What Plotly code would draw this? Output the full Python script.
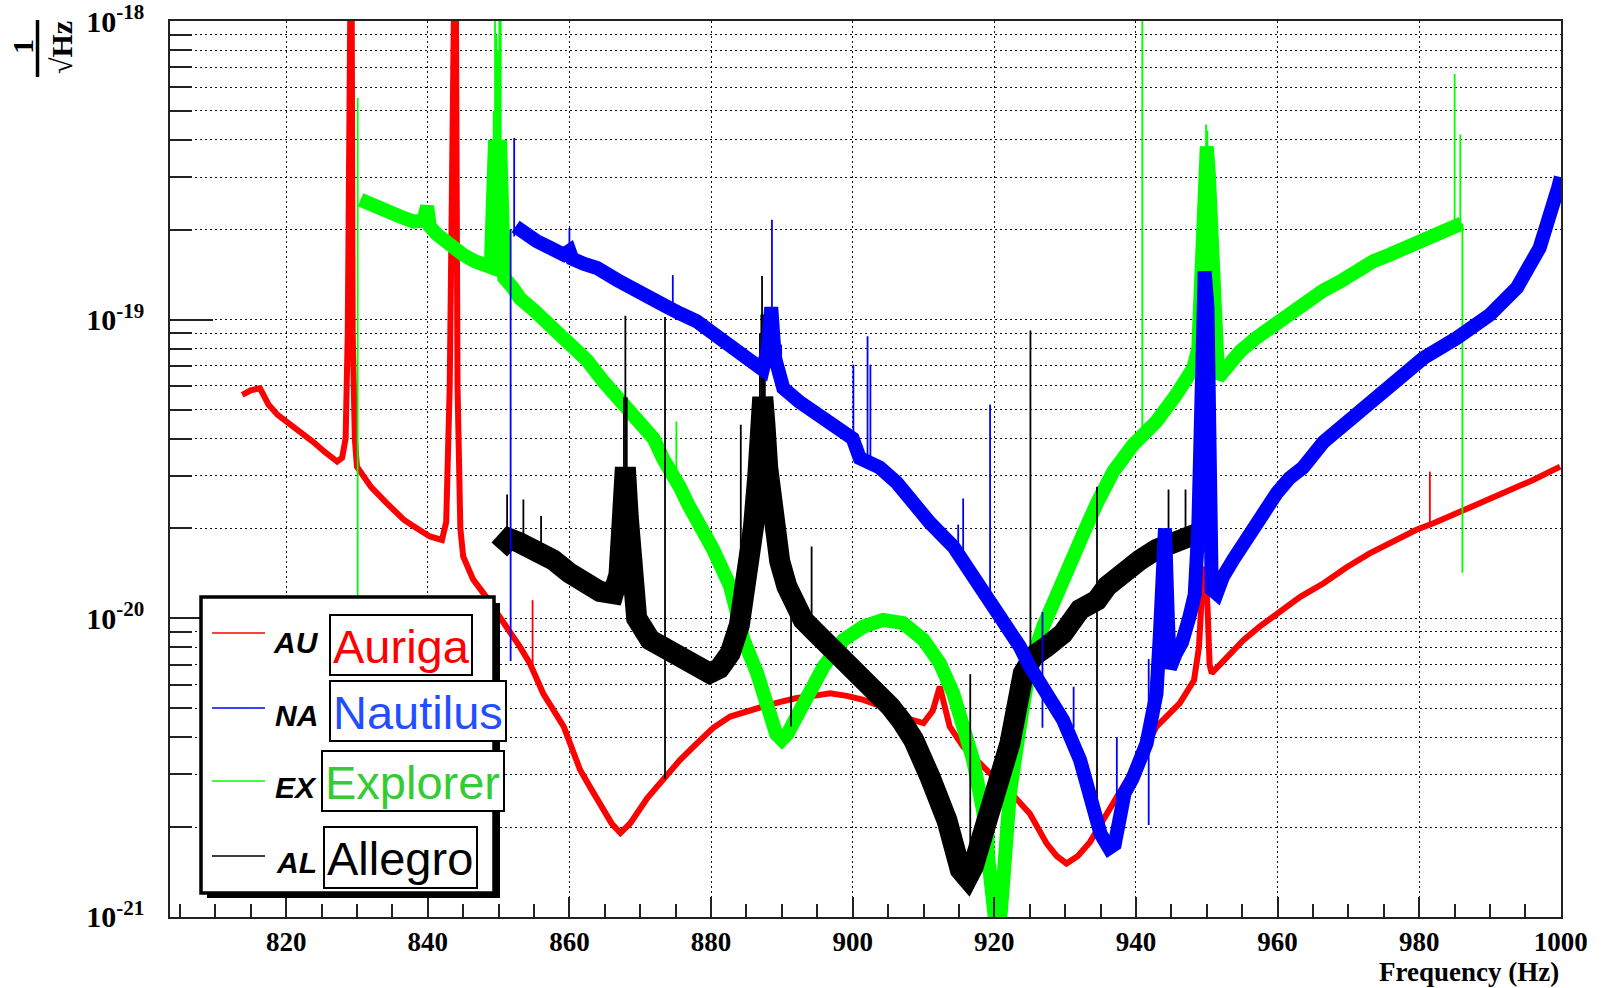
import numpy as np
import plotly.graph_objects as go

UNIT = 1e-21  # values below are in units of 1e-21 / sqrt(Hz)

# ---------------- Auriga ----------------
AU_F = [813.8, 815.0, 816.3, 817.5, 818.8, 820.1, 822.0, 823.8, 825.5, 827.2, 827.9, 828.4, 828.7, 828.9, 829.2,
        829.4, 829.7, 830.0, 832.0, 834.2, 836.6, 838.5, 840.3, 842.0, 842.6, 843.1, 843.5, 843.9, 844.2, 844.6,
        845.0, 846.4, 847.9, 850.2, 853.0, 854.4, 856.3, 859.2, 861.5, 863.0, 864.8, 866.0, 867.2, 868.6, 871.0,
        873.3, 875.6, 878.0, 880.3, 882.7, 885.0, 887.4, 889.8, 892.1, 894.5, 896.8, 899.2, 901.5, 903.8, 906.2,
        908.0, 910.0, 911.3, 912.3, 913.0, 913.7, 915.6, 918.0, 920.3, 922.7, 925.0, 927.4, 928.8, 930.2, 931.8,
        933.5, 936.3, 939.6, 942.9, 946.2, 948.2, 948.9, 949.3, 949.7, 950.1, 950.4, 950.7, 953.0, 955.2, 957.5,
        959.9, 963.2, 966.5, 969.7, 973.0, 976.3, 979.6, 982.0, 985.3, 988.8, 992.3, 996.0, 999.9]
AU_V = [56, 58, 59, 52, 48, 45.6, 42, 39, 36, 33.5, 34.5, 40, 90, 3000, 3000,
        90, 40, 32.2, 27.5, 24.3, 21.4, 20, 18.8, 18.3, 21, 60, 3000, 3000, 60, 20,
        16.1, 13.5, 12.1, 10.1, 8.04, 7.08, 5.6, 4.34, 3.11, 2.7, 2.28, 2.05, 1.91, 2.06, 2.5,
        2.88, 3.35, 3.81, 4.3, 4.69, 4.9, 5.07, 5.25, 5.41, 5.5, 5.61, 5.5, 5.33, 5.1, 4.81,
        4.6, 4.46, 4.9, 5.91, 5.0, 4.34, 3.72, 3.25, 2.88, 2.55, 2.22, 1.76, 1.6, 1.51, 1.6,
        1.78, 2.28, 3.11, 4.34, 5.2, 6.2, 8, 12, 14.9, 11, 7, 6.55, 7.5, 8.47, 9.4,
        10.4, 11.8, 13.1, 14.8, 16.5, 18.1, 19.8, 20.8, 22.5, 24.3, 26.3, 29, 32.2]
AU_SPK_F = [854.8, 981.5]
AU_SPK_LO = [7.0, 20.5]
AU_SPK_HI = [11.5, 31]

# ---------------- Nautilus ----------------
NA_F = [852.4, 854.0, 855.4, 857.3, 859.2, 860.0, 860.4, 862.0, 863.9, 866.7, 869.5, 871.4, 873.3, 875.6, 878.0,
        880.3, 882.7, 884.6, 886.5, 887.3, 888.0, 888.5, 889.0, 889.6, 890.2, 892.5, 894.9, 897.0, 899.2, 900.0,
        901.0, 903.8, 906.2, 908.5, 910.9, 914.2, 918.0, 920.3, 922.0, 923.6, 925.0, 927.9, 929.7, 932.1, 934.0,
        935.0, 936.2, 937.0, 938.4, 939.5, 941.5, 942.9, 943.4, 943.8, 944.1, 944.5, 944.8, 945.6, 946.5, 947.5,
        948.3, 948.8, 949.3, 949.7, 950.1, 950.4, 950.7, 951.4, 952.3, 953.8, 955.2, 957.5, 959.9, 961.7, 963.6,
        966.5, 971.2, 975.9, 980.6, 985.3, 990.0, 993.8, 997.0, 999.6, 1000.0]
NA_V = [205, 192, 183, 174, 165, 170, 160, 154, 149, 136, 124, 118, 112, 105, 98.7,
        90, 82.5, 76, 70.7, 68, 80, 110, 75, 62, 59, 53, 48, 44.5, 41.2, 40,
        34.4, 32, 28.5, 24, 20.9, 17.4, 12.8, 10.9, 9.3, 8.04, 6.9, 5.33, 4.57, 3.36, 2.28,
        1.9, 1.7, 1.75, 2.6, 2.9, 3.81, 5.6, 9, 16, 20, 10, 6.8, 7.6, 8.3, 10,
        12, 20, 60, 145, 110, 30, 12.5, 12.1, 13.8, 15.8, 17.9, 21.8, 26.3, 29.5, 32,
        39, 48, 60.6, 74.4, 86.8, 104, 128, 174, 276, 300]
NA_SPK_F = [851.7, 852.2, 860.0, 874.6, 888.6, 889.1, 889.9, 900.1, 902.1, 902.5, 914.9, 915.6, 919.4, 926.8,
            931.2, 937.3, 941.8]
NA_SPK_LO = [7.2, 190, 165, 108, 70, 65, 60, 40, 34, 34, 17, 16, 11.5, 4.3, 4.3, 2.2, 2.03]
NA_SPK_HI = [200, 406, 203, 141, 216, 105, 82.5, 70.7, 88, 70.7, 20.6, 25.2, 52, 10.5, 5.9, 4.0, 7.3]

# ---------------- Explorer ----------------
EX_F = [830.5, 832.3, 834.2, 836.0, 838.0, 839.4, 839.9, 840.3, 841.3, 843.0, 845.0, 846.6, 848.3, 848.9, 849.2,
        849.5, 849.8, 850.2, 850.5, 850.8, 852.0, 853.0, 854.9, 856.8, 858.5, 860.1, 862.5, 864.8, 866.7, 868.6,
        870.2, 871.9, 873.3, 874.5, 875.6, 876.8, 878.0, 880.3, 882.7, 884.6, 886.5, 888.3, 889.2, 890.0, 890.8,
        891.6, 894.0, 895.9, 898.7, 901.5, 904.3, 907.1, 910.0, 912.3, 914.2, 915.6, 917.0, 918.4, 919.3, 919.9,
        920.5, 921.0, 921.3, 922.2, 923.6, 925.0, 926.9, 929.7, 932.6, 934.5, 936.8, 939.6, 942.9, 945.7, 948.1,
        948.8, 949.3, 949.7, 950.0, 950.3, 950.6, 950.9, 951.3, 951.6, 953.0, 954.7, 957.0, 959.4, 961.7, 964.1,
        966.4, 968.8, 971.1, 973.5, 975.8, 978.2, 980.5, 982.9, 984.5, 985.7, 986.0]
EX_V = [252, 240, 230, 222, 213, 215, 240, 205, 193, 178, 165, 157, 149, 150, 250,
        400, 350, 400, 250, 138, 128, 118, 108, 98.7, 91, 84.6, 73, 62.1, 55, 48.6,
        44, 40, 34, 31, 27.5, 24, 21.4, 17, 12.8, 8.47, 6.55, 4.57, 4.1, 3.92, 4.1,
        4.46, 5.6, 6.9, 8.47, 9.38, 9.88, 9.64, 8.47, 7.08, 5.6, 4.46, 3.36, 2.28, 1.5, 0.9,
        0.8, 1.1, 1.55, 2.6, 4.34, 6.9, 9.38, 13.8, 19.3, 24.3, 31, 38.1, 45.6, 56.1, 68.9,
        80, 139, 225, 380, 306, 189, 100, 68, 63.8, 70, 78.3, 87, 96.2, 106, 115,
        125, 134, 145, 157, 165, 174, 184, 193, 201, 208, 210]
EX_SPK_F = [830.1, 849.3, 849.5, 849.7, 849.9, 850.1, 850.3, 875.1, 919.9, 940.9, 949.9, 950.1, 985.0, 985.8,
            986.1]
EX_SPK_LO = [6, 250, 300, 300, 300, 300, 250, 30, 0.8, 40, 300, 300, 200, 205, 14.2]
EX_SPK_HI = [553, 500, 3000, 900, 800, 3000, 3000, 45.6, 2.06, 3000, 450, 430, 665, 417, 210]

# ---------------- Allegro ----------------
AL_F = [850.1, 851.5, 853.0, 855.4, 857.7, 860.0, 862.5, 864.3, 866.2, 867.0, 867.5, 867.9, 868.3, 868.7, 869.5,
        871.4, 873.5, 875.6, 877.7, 879.8, 881.2, 882.7, 884.0, 884.6, 885.3, 886.0, 886.6, 887.0, 887.3, 887.6,
        888.0, 888.4, 888.8, 889.7, 890.7, 891.8, 893.0, 894.9, 896.8, 899.1, 901.5, 903.4, 905.3, 907.0, 908.6,
        910.9, 913.3, 915.2, 916.2, 917.0, 918.9, 920.3, 922.2, 924.1, 925.6, 927.4, 929.7, 932.1, 934.5, 935.9,
        938.2, 940.6, 942.9, 945.3, 947.6, 950.0]
AL_V = [17, 18.5, 17.9, 16.8, 15.7, 14.2, 12.8, 12.3, 12.1, 14, 22, 32, 22, 13, 10,
        8.47, 8, 7.64, 7.0, 6.55, 6.8, 7.64, 9.5, 11.5, 15, 20.3, 30, 45, 55, 45,
        32, 25, 19.3, 15.5, 12.8, 11, 9.88, 8.9, 8.04, 7.3, 6.55, 5.8, 5.07, 4.5, 3.92,
        2.95, 2.11, 1.44, 1.35, 1.47, 2.11, 2.95, 3.81, 6.55, 7.5, 8.04, 8.9, 10.7, 11.5, 12.8,
        14.5, 15.7, 17, 17.9, 18.8, 19.8]
AL_SPK_F = [851.2, 853.5, 856.0, 867.7, 867.9, 868.1, 873.5, 884.2, 886.9, 887.1, 887.2, 887.4, 887.6, 891.3,
            894.2, 916.6, 925.1, 934.5, 944.6, 947.0, 948.9]
AL_SPK_LO = [17, 18, 16, 30, 30, 30, 2.9, 9, 40, 50, 50, 50, 40, 4.34, 9, 1.4, 6.0, 1.9, 18, 19, 20]
AL_SPK_HI = [26, 25, 22, 55, 103, 55, 102, 44.5, 90, 104, 140, 104, 80, 11, 17.4, 6.5, 92, 27.6, 27, 27, 30]

# ---------------- axes ----------------
X_MAJOR = [820, 840, 860, 880, 900, 920, 940, 960, 980, 1000]
Y_MAJOR = [1e-21, 1e-20, 1e-19, 1e-18]
Y_MAJOR_TEXT = ["<b>10<sup>-21</sup></b>", "<b>10<sup>-20</sup></b>", "<b>10<sup>-19</sup></b>", "<b>10<sup>-18</sup></b>"]
Y_MINOR = [m * d for d in (1e-21, 1e-20, 1e-19) for m in range(2, 10)]

LEGEND = [("AU", "Auriga", "#ff0000", "#ff0000"),
          ("NA", "Nautilus", "#0000ff", "#1f4fff"),
          ("EX", "Explorer", "#00ff00", "#33cc33"),
          ("AL", "Allegro", "#000000", "#000000")]

for a, b in [(AU_F, AU_V), (NA_F, NA_V), (EX_F, EX_V), (AL_F, AL_V)]:
    assert len(a) == len(b)
for a, b, c in [(AU_SPK_F, AU_SPK_LO, AU_SPK_HI), (NA_SPK_F, NA_SPK_LO, NA_SPK_HI),
                (EX_SPK_F, EX_SPK_LO, EX_SPK_HI), (AL_SPK_F, AL_SPK_LO, AL_SPK_HI)]:
    assert len(a) == len(b) == len(c)

W, H = 1604, 988
L, R, T, B = 170, 1561, 21, 917


def px(x):
    return (x - L) / (R - L)


def py(y):
    return (B - y) / (B - T)


fig = go.Figure()


def band(f, v, color, width):
    fig.add_trace(go.Scatter(x=f, y=np.array(v) * UNIT, mode="lines",
                             line=dict(color=color, width=width), showlegend=False, hoverinfo="skip"))


def spikes(f, lo, hi, color):
    xs, ys = [], []
    for a, b, c in zip(f, lo, hi):
        xs += [a, a, None]
        ys += [b * UNIT, c * UNIT, None]
    fig.add_trace(go.Scatter(x=xs, y=ys, mode="lines", line=dict(color=color, width=1.8),
                             showlegend=False, hoverinfo="skip", connectgaps=False))


band(AU_F, AU_V, "#ff0000", 6)
spikes(AU_SPK_F, AU_SPK_LO, AU_SPK_HI, "#ff0000")
band(EX_F, EX_V, "#00ff00", 14)
spikes(EX_SPK_F, EX_SPK_LO, EX_SPK_HI, "#00ff00")
band(AL_F, AL_V, "#000000", 21)
spikes(AL_SPK_F, AL_SPK_LO, AL_SPK_HI, "#000000")
band(NA_F, NA_V, "#0000ff", 14)
spikes(NA_SPK_F, NA_SPK_LO, NA_SPK_HI, "#0000ff")

GRID = dict(gridcolor="#111111", gridwidth=1, griddash="2px,3px")

fig.update_layout(
    width=W, height=H,
    margin=dict(l=L, r=W - R, t=T, b=H - B, pad=0, autoexpand=False),
    paper_bgcolor="white", plot_bgcolor="white",
    showlegend=False,
    xaxis=dict(range=[803.6, 1000.02], tickmode="array", tickvals=X_MAJOR, automargin=False,
               ticklabeloverflow="allow",
               ticks="inside", ticklen=20, tickwidth=1.5, tickcolor="#222",
               showgrid=True, **GRID,
               minor=dict(tick0=800, dtick=5, ticks="inside", ticklen=13, tickwidth=1.5, tickcolor="#222",
                          showgrid=False),
               showline=True, linecolor="#222", linewidth=1.5, mirror=True, zeroline=False,
               tickfont=dict(family="Liberation Serif", size=27, color="black", weight="bold"),
               ticklabelstandoff=0),
    yaxis=dict(type="log", range=[-21.0002, -17.9998], tickmode="array", tickvals=Y_MAJOR, ticktext=Y_MAJOR_TEXT,
               automargin=False, ticklabeloverflow="allow",
               ticks="inside", ticklen=43, tickwidth=1.5, tickcolor="#222",
               showgrid=True, **GRID,
               minor=dict(tickmode="array", tickvals=Y_MINOR, ticks="inside", ticklen=22, tickwidth=1.5,
                          tickcolor="#222", showgrid=True, **GRID),
               showline=True, linecolor="#222", linewidth=1.5, mirror=True, zeroline=False,
               tickfont=dict(family="Liberation Serif", size=30, color="black"),
               ticklabelstandoff=18),
)

shapes = []
ann = []

# legend frame with shadow
shapes.append(dict(type="rect", xref="paper", yref="paper", x0=px(207), x1=px(500), y0=py(898), y1=py(603),
                   fillcolor="black", line=dict(width=0), layer="above"))
shapes.append(dict(type="rect", xref="paper", yref="paper", x0=px(201), x1=px(494), y0=py(893), y1=py(597),
                   fillcolor="white", line=dict(color="black", width=3.5), layer="above"))

LINE_Y = [633, 708, 781, 856]
TAG_Y = [642, 715, 787, 862]
BOXES = [(330, 472, 615, 675), (330, 506, 681, 741), (322, 504, 751, 811), (324, 477, 827, 888)]
for (tag, name, lc, tc), ly, ty, (bx0, bx1, by0, by1) in zip(LEGEND, LINE_Y, TAG_Y, BOXES):
    shapes.append(dict(type="line", xref="paper", yref="paper", x0=px(212), x1=px(265), y0=py(ly), y1=py(ly),
                       line=dict(color=lc, width=1.5), layer="above"))
    shapes.append(dict(type="rect", xref="paper", yref="paper", x0=px(bx0), x1=px(bx1), y0=py(by1), y1=py(by0),
                       fillcolor="white", line=dict(color="black", width=2), layer="above"))
    ann.append(dict(xref="paper", yref="paper", x=px(296), y=py(ty), text="<b><i>%s</i></b>" % tag,
                    showarrow=False, xanchor="center", yanchor="middle",
                    font=dict(family="Liberation Sans", size=30, color="black")))
    ann.append(dict(xref="paper", yref="paper", x=px(bx0 + 1), y=py((by0 + by1) / 2 + 1), text=name,
                    showarrow=False, xanchor="left", yanchor="middle",
                    font=dict(family="Liberation Sans", size=47, color=tc)))

# y-axis unit label 1/sqrt(Hz)
shapes.append(dict(type="line", xref="paper", yref="paper", x0=px(37.5), x1=px(37.5), y0=py(20), y1=py(77),
                   line=dict(color="black", width=3.5), layer="above"))
ann.append(dict(xref="paper", yref="paper", x=px(23), y=py(47), text="<b>1</b>", textangle=-90,
                showarrow=False, xanchor="center", yanchor="middle",
                font=dict(family="Liberation Serif", size=30, color="black")))
ann.append(dict(xref="paper", yref="paper", x=px(61), y=py(48), text="<b>\u221aHz</b>", textangle=-90,
                showarrow=False, xanchor="center", yanchor="middle",
                font=dict(family="Liberation Serif", size=30, color="black")))

# x-axis title
ann.append(dict(xref="paper", yref="paper", x=px(1561), y=py(972), text="<b>Frequency (Hz)</b>",
                showarrow=False, xanchor="right", yanchor="middle",
                font=dict(family="Liberation Serif", size=27, color="black")))

fig.update_layout(shapes=shapes, annotations=ann)

fig.write_html("out.html", config={"displayModeBar": False},
               post_script="document.body.style.margin='0';")
